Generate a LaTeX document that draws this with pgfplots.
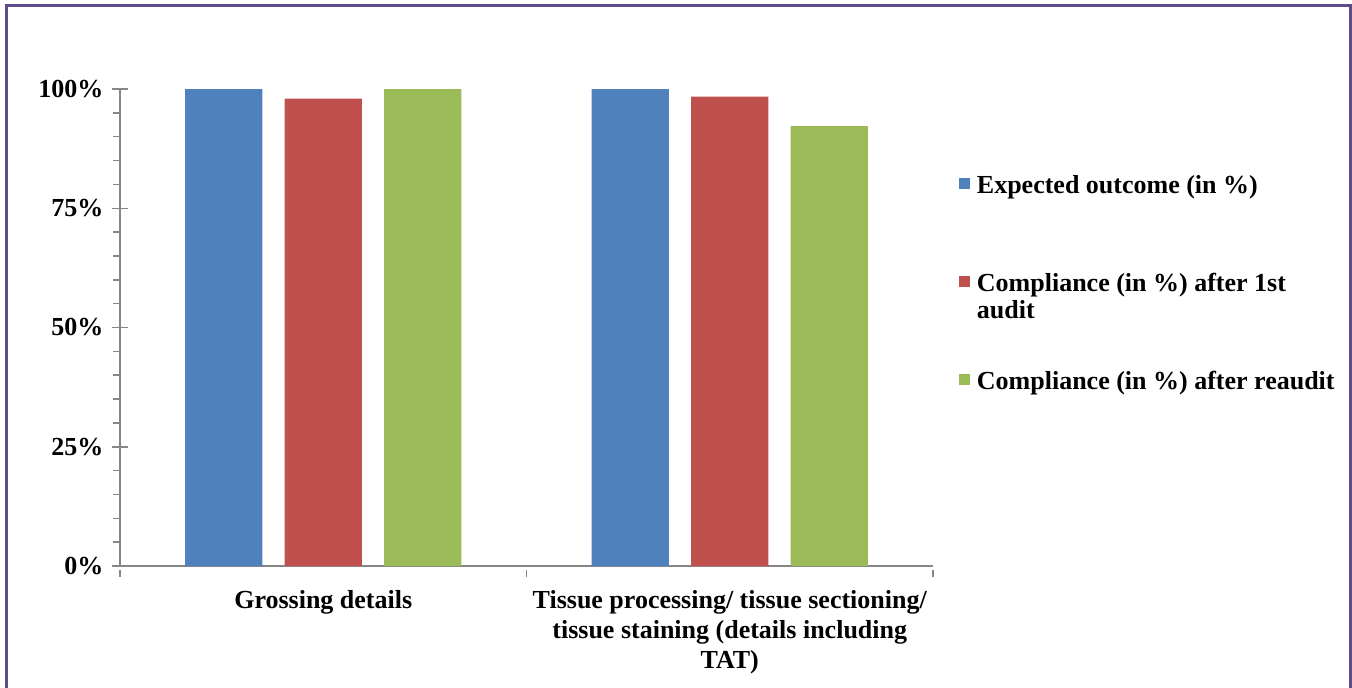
\documentclass[border=0pt]{standalone}
\usepackage{fontspec}
\setmainfont{Liberation Serif}
\usepackage{pgfplots}
\pgfplotsset{compat=1.18}

\definecolor{barblue}{HTML}{4F81BD}
\definecolor{barred}{HTML}{C0504D}
\definecolor{bargreen}{HTML}{9BBB59}
\definecolor{axisgray}{HTML}{868686}
\definecolor{framepurple}{HTML}{5F4A8B}

\newcommand{\chartfont}{\fontsize{13}{15}\selectfont\bfseries}

\begin{document}
\begin{tikzpicture}
\useasboundingbox (0,0) rectangle (676pt,343.5pt);
% open frame round the chart (no bottom edge)
\draw[framepurple, line width=1.5pt]
  (3.3pt,-1pt) -- (3.3pt,340.5pt) -- (675pt,340.5pt) -- (675pt,-1pt);
\begin{axis}[
  at={(60pt,60.5pt)}, anchor=south west,
  scale only axis, width=406.5pt, height=238.5pt,
  xmin=0, xmax=2, ymin=0, ymax=100,
  axis lines*=left,
  axis line style={axisgray, line width=0.75pt},
  every tick/.style={axisgray, line width=0.75pt},
  tick align=center,
  major tick length=7.5pt,
  minor tick length=3.4pt,
  ytick={0,25,50,75,100},
  yticklabels={0\%,25\%,50\%,75\%,100\%},
  minor y tick num=4,
  minor y tick style={xshift=-1.7pt},
  xtick={0.5,1.5},
  xticklabels={Grossing details,
    {Tissue processing/ tissue sectioning/\\tissue staining (details including\\TAT)}},
  major x tick style={draw=none},
  minor xtick={0,1,2},
  minor x tick style={yshift=-2pt},
  every tick label/.append style={font=\chartfont},
  xticklabel style={align=center, text depth=3pt, yshift=-1pt},
  yticklabel style={xshift=-1pt},
  ybar,
  bar width=0.19,
  legend image code/.code={\fill[#1] (0pt,-0.5pt) rectangle (5.5pt,5pt);},
  legend cell align=left,
  legend style={draw=none, fill=none, font=\chartfont,
    at={(axis description cs:1.024,0.827)}, anchor=north west,
    row sep=37pt,
    nodes={inner sep=0pt, text height=9pt, text depth=3pt},
    /tikz/every odd column/.append style={column sep=3.5pt}},
]
\addplot[fill=barblue, draw=none, bar shift=-0.245]
  coordinates {(0.5,100) (1.5,100)};
\addlegendentry{Expected outcome (in \%)}
\addplot[fill=barred, draw=none, bar shift=0]
  coordinates {(0.5,98) (1.5,98.4)};
\addlegendentry{\makebox[0pt][l]{\raisebox{-13.5pt}[0pt][0pt]{audit}}Compliance (in \%) after 1st}
\addplot[fill=bargreen, draw=none, bar shift=0.245]
  coordinates {(0.5,100) (1.5,92.2)};
\addlegendentry{Compliance (in \%) after reaudit}
\end{axis}
\end{tikzpicture}
\end{document}
